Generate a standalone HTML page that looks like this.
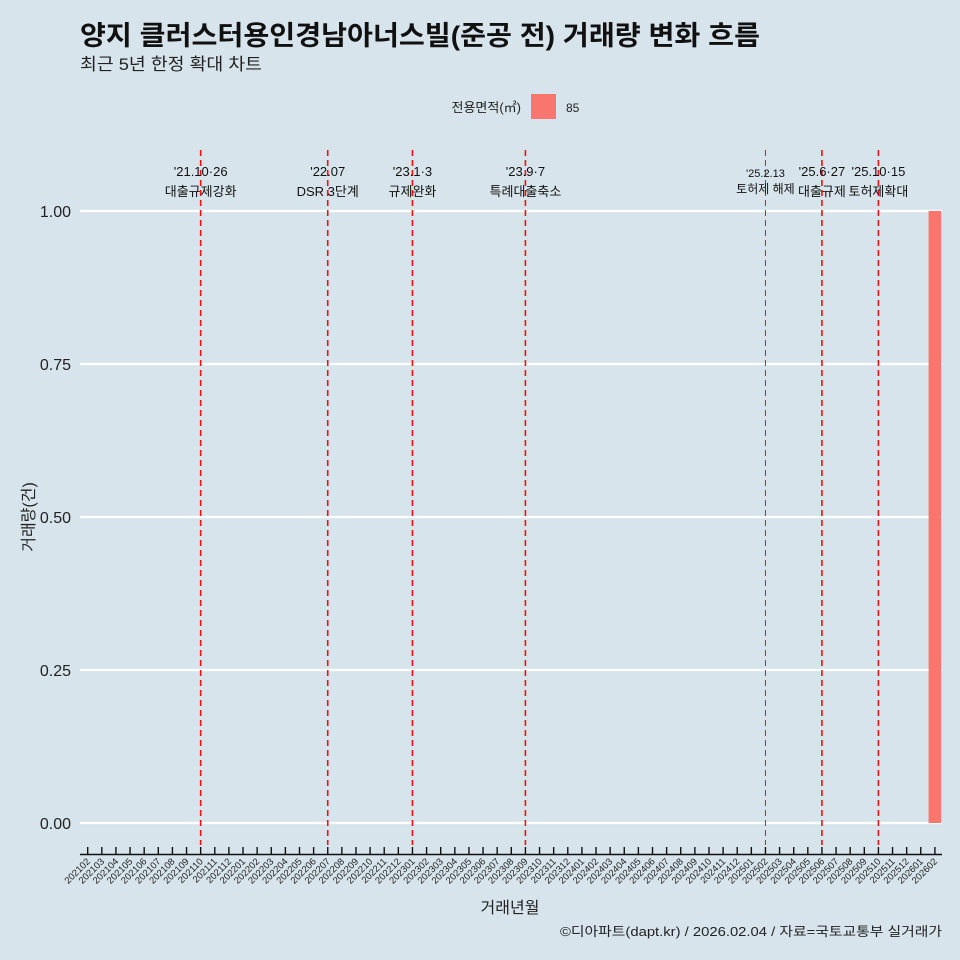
<!DOCTYPE html>
<html><head><meta charset="utf-8">
<style>
body{margin:0;background:#d7e4ec;}
svg{display:block;font-family:"Liberation Sans","Noto Sans CJK KR",sans-serif;}
</style></head>
<body>
<svg id="chart" width="960" height="960" viewBox="0 0 960 960">
<rect width="960" height="960" fill="#d7e4ec"/>
<text x="80" y="45" font-size="27" font-weight="bold" fill="#111" textLength="680" lengthAdjust="spacingAndGlyphs">양지 클러스터용인경남아너스빌(준공 전) 거래량 변화 흐름</text>
<text x="80" y="70" font-size="17" fill="#222" textLength="182" lengthAdjust="spacingAndGlyphs">최근 5년 한정 확대 차트</text>
<g>
<text x="521" y="112" font-size="13" text-anchor="end" fill="#222">전용면적(㎡)</text>
<rect x="531" y="94" width="25" height="25" fill="#f8766d"/>
<text x="566" y="112" font-size="12" fill="#222">85</text>
</g>
<g id="grid"></g><g id="bars"></g><g id="events"></g><g id="xaxis"></g><g id="yaxis"></g>
<text x="510" y="913" font-size="16" text-anchor="middle" fill="#222">거래년월</text>
<text transform="translate(34,517) rotate(-90)" font-size="16" text-anchor="middle" fill="#222">거래량(건)</text>
<text x="942" y="936" font-size="13" text-anchor="end" fill="#222" textLength="382" lengthAdjust="spacingAndGlyphs">©디아파트(dapt.kr) / 2026.02.04 / 자료=국토교통부 실거래가</text>
</svg>
<script>
const months=[];for(let y=2021;y<=2026;y++)for(let m=1;m<=12;m++){const k=y*100+m;if(k>=202102&&k<=202602)months.push(String(k));}
const barMonths=["202602"];
const barValues=[1];
const yTicks=[0,0.25,0.5,0.75,1];
const yTickLabels=["0.00","0.25","0.50","0.75","1.00"];
const eventMonths=["202110","202207","202301","202309","202502","202506","202510"];
const eventDates=["'21.10·26","'22.07","'23.1·3","'23.9·7","'25.2.13","'25.6·27","'25.10·15"];
const eventLabels=["대출규제강화","DSR 3단계","규제완화","특례대출축소","토허제 해제","대출규제","토허제확대"];
const NS="http://www.w3.org/2000/svg";
const X0=87.7,STEP=14.12,Y0=823,Y1=211;
const xs=m=>X0+months.indexOf(m)*STEP;
const ys=v=>Y0-(v/1)*(Y0-Y1);
function mk(tag,at,parent){const e=document.createElementNS(NS,tag);for(const k in at)e.setAttribute(k,at[k]);document.getElementById(parent).appendChild(e);return e;}
yTicks.forEach((t,i)=>{
 const l=mk('line',{x1:80,x2:942,y1:ys(t),y2:ys(t),stroke:'#fff','stroke-width':2.2},'grid');
 
 
 const tx=mk('text',{x:71,y:ys(t)+6,'font-size':16,'text-anchor':'end',fill:'#222'},'yaxis');
 tx.textContent=yTickLabels[i];
 
 
});
barMonths.forEach((m,i)=>{
 const r=mk('rect',{x:xs(m)-6.3,y:ys(barValues[i]),width:12.6,height:ys(0)-ys(barValues[i]),fill:'#f8766d'},'bars');
 
 
});
eventMonths.forEach((m,i)=>{
 const x=xs(m);const small=(i===4);
 const l=mk('line',{x1:x,x2:x,y1:150,y2:845,stroke:'#ee1111','stroke-width':small?1:1.6,'stroke-dasharray':'6,4'},'events');
 
 
 const t1=mk('text',{x:x,y:small?177:176,'font-size':small?11:13,'text-anchor':'middle',fill:'#111'},'events');
 t1.textContent=eventDates[i];
 
 
 const t2=mk('text',{x:x,y:small?193:196,'font-size':small?12:13,'text-anchor':'middle',fill:'#111'},'events');
 t2.textContent=eventLabels[i];
 
 
});
const ax=mk('line',{x1:80,x2:942,y1:854.5,y2:854.5,stroke:'#111','stroke-width':1.4},'xaxis');


months.forEach(m=>{
 const x=xs(m);
 const tk=mk('line',{x1:x,x2:x,y1:847,y2:855,stroke:'#111','stroke-width':1.4},'xaxis');
 
 
 const t=mk('text',{transform:`translate(${x+3},${862}) rotate(-45)`,'font-size':9.5,'text-anchor':'end',fill:'#222'},'xaxis');
 t.textContent=m;
 
 
});
</script>
</body></html>
